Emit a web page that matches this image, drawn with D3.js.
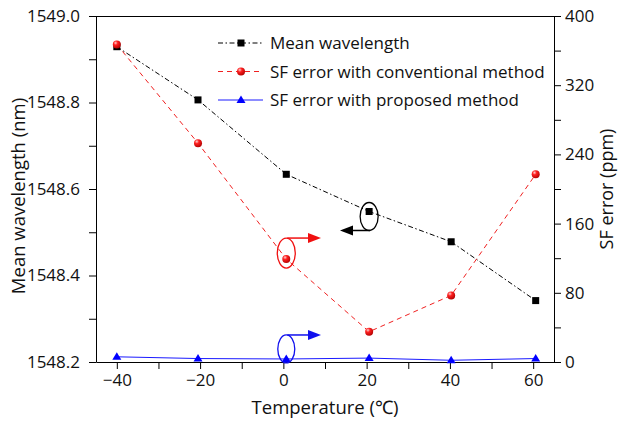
<!DOCTYPE html>
<html><head><meta charset="utf-8">
<script src="https://cdn.jsdelivr.net/npm/d3@7"></script>
<style>
body{margin:0;background:#fff}
svg{display:block}
text{font-family:'Open Sans',sans-serif;fill:#111}
</style>
</head><body>
<svg id="c" width="620" height="421"></svg>
<script>
// ---- data ----
const temps = [-40, -20.5, 0.7, 20.6, 40.3, 60.6];
const meanWavelength = [1548.929, 1548.806, 1548.634, 1548.548, 1548.478, 1548.342];
const sfConventional = [367, 253, 119, 35, 77, 217];
const sfProposed = [6, 4, 3.5, 4.5, 2, 4];
const xTicks = [-40, -20, 0, 20, 40, 60];
const xMinor = [-30, -10, 10, 30, 50];
const leftTicks = [1548.2, 1548.4, 1548.6, 1548.8, 1549.0];
const leftMinor = [1548.3, 1548.5, 1548.7, 1548.9];
const rightTicks = [0, 80, 160, 240, 320, 400];
const rightMinor = [40, 120, 200, 280, 360];
const seriesNames = ["Mean wavelength", "SF error with conventional method", "SF error with proposed method"];
const xTitle = "Temperature (\u2103)";
const leftTitle = "Mean wavelength (nm)";
const rightTitle = "SF error (ppm)";

// ---- layout ----
const L = 96, R = 554, T = 16, B = 362;
const svg = d3.select("#c");
const x = d3.scaleLinear().domain([-45, 65]).range([L, R]);
const yL = d3.scaleLinear().domain([1548.2, 1549.0]).range([B, T]);
const yR = d3.scaleLinear().domain([0, 400]).range([B, T]);

const defs = svg.append("defs");
const g = defs.append("radialGradient").attr("id", "ball").attr("cx", "0.35").attr("cy", "0.3").attr("r", "0.75");
g.append("stop").attr("offset", "0").attr("stop-color", "#ffd0d0");
g.append("stop").attr("offset", "0.35").attr("stop-color", "#ff2020");
g.append("stop").attr("offset", "1").attr("stop-color", "#b00000");

function styleAxis(sel) {
  sel.selectAll("path,line").attr("stroke", "#000").attr("stroke-width", 1);
  sel.selectAll("text").style("font-size", "17px").attr("fill", "#111").style("font-family", "'Open Sans',sans-serif");
}

// frame top
svg.append("line").attr("x1", L).attr("x2", R).attr("y1", T + 0.5).attr("y2", T + 0.5).attr("stroke", "#000");

// bottom axis
const ax = svg.append("g").attr("transform", `translate(0,${B})`)
  .call(d3.axisBottom(x).tickValues(xTicks).tickSize(7).tickSizeOuter(0).tickPadding(5).tickFormat(d3.format("d")));
styleAxis(ax);
const axm = svg.append("g").attr("transform", `translate(0,${B})`)
  .call(d3.axisBottom(x).tickValues(xMinor).tickSize(7).tickSizeOuter(0).tickFormat(""));
axm.select("path").remove(); styleAxis(axm);

// left axis
const al = svg.append("g").attr("transform", `translate(${L},0)`)
  .call(d3.axisLeft(yL).tickValues(leftTicks).tickSize(7).tickSizeOuter(0).tickPadding(9).tickFormat(d3.format(".1f")));
styleAxis(al);
const alm = svg.append("g").attr("transform", `translate(${L},0)`)
  .call(d3.axisLeft(yL).tickValues(leftMinor).tickSize(7).tickSizeOuter(0).tickFormat(""));
alm.select("path").remove(); styleAxis(alm);

// right axis
const ar = svg.append("g").attr("transform", `translate(${R},0)`)
  .call(d3.axisRight(yR).tickValues(rightTicks).tickSize(7).tickSizeOuter(0).tickPadding(4).tickFormat(d3.format("d")));
styleAxis(ar);
const arm = svg.append("g").attr("transform", `translate(${R},0)`)
  .call(d3.axisRight(yR).tickValues(rightMinor).tickSize(7).tickSizeOuter(0).tickFormat(""));
arm.select("path").remove(); styleAxis(arm);

// titles
svg.append("text").attr("x", (L + R) / 2).attr("y", 414).attr("text-anchor", "middle").style("font-size", "18.5px").text(xTitle);
svg.append("text").attr("transform", `translate(25,${(T + B) / 2 + 7}) rotate(-90)`).attr("text-anchor", "middle").style("font-size", "18.5px").text(leftTitle);
svg.append("text").attr("transform", `translate(613,${(T + B) / 2}) rotate(-90)`).attr("text-anchor", "middle").style("font-size", "18px").text(rightTitle);

// series
const blackPts = temps.map((t, i) => [x(t), yL(meanWavelength[i])]);
const redPts = temps.map((t, i) => [x(t), yR(sfConventional[i])]);
const bluePts = temps.map((t, i) => [x(t), yR(sfProposed[i])]);
const line = d3.line();

svg.append("path").attr("d", line(blackPts)).attr("fill", "none").attr("stroke", "#000").attr("stroke-width", 1).attr("stroke-dasharray", "5,2.5,1.5,2.5");
svg.append("path").attr("d", line(redPts)).attr("fill", "none").attr("stroke", "#f02020").attr("stroke-width", 1).attr("stroke-dasharray", "5,4");
svg.append("path").attr("d", line(bluePts)).attr("fill", "none").attr("stroke", "#1a1aff").attr("stroke-width", 1);

function square(sel, pts) {
  sel.selectAll(null).data(pts).enter().append("rect")
    .attr("x", d => d[0] - 3.5).attr("y", d => d[1] - 3.5).attr("width", 7).attr("height", 7).attr("fill", "#000");
}
function ball(sel, pts) {
  sel.selectAll(null).data(pts).enter().append("circle")
    .attr("cx", d => d[0]).attr("cy", d => d[1]).attr("r", 4).attr("fill", "url(#ball)");
}
function tri(sel, pts) {
  sel.selectAll(null).data(pts).enter().append("path")
    .attr("d", d => `M${d[0]},${d[1] - 4.5}L${d[0] + 4.5},${d[1] + 3}L${d[0] - 4.5},${d[1] + 3}Z`).attr("fill", "#0000ff");
}
const mk = svg.append("g");
square(mk, blackPts);
ball(mk, redPts);
tri(mk, bluePts);

// annotations (ellipse + arrow pointing to axis)
function annot(px, py, dy, rx, ry, fromTop, tipX, color) {
  const cx = px, cy = py + dy;
  svg.append("ellipse").attr("cx", cx).attr("cy", cy).attr("rx", rx).attr("ry", ry)
    .attr("fill", "none").attr("stroke", color).attr("stroke-width", 1.3);
  const ay = fromTop ? cy - ry : cy + ry;
  const sx = cx + 1;
  const dir = tipX > sx ? 1 : -1;
  svg.append("line").attr("x1", sx).attr("y1", ay).attr("x2", tipX - dir * 11).attr("y2", ay)
    .attr("stroke", color).attr("stroke-width", 1.5);
  svg.append("path").attr("d", `M${tipX},${ay}L${tipX - dir * 13},${ay - 5}L${tipX - dir * 13},${ay + 5}Z`).attr("fill", color);
}
annot(blackPts[3][0], blackPts[3][1], 5, 9, 14, false, 340, "#000");
annot(redPts[2][0], redPts[2][1], -6, 9, 15, true, 321, "#f01010");
annot(bluePts[2][0], bluePts[2][1], -10, 8.5, 14, true, 321, "#1010ee");

// legend
const leg = svg.append("g");
const legY = [43, 71.5, 100];
const lx1 = 218, lx2 = 263, lm = 241;
leg.append("line").attr("x1", lx1).attr("x2", lx2).attr("y1", legY[0]).attr("y2", legY[0]).attr("stroke", "#000").attr("stroke-dasharray", "5,2.5,1.5,2.5");
square(leg, [[lm, legY[0]]]);
leg.append("line").attr("x1", lx1).attr("x2", lx2).attr("y1", legY[1]).attr("y2", legY[1]).attr("stroke", "#f02020").attr("stroke-dasharray", "5,4");
ball(leg, [[lm, legY[1]]]);
leg.append("line").attr("x1", lx1).attr("x2", lx2).attr("y1", legY[2]).attr("y2", legY[2]).attr("stroke", "#1a1aff");
tri(leg, [[lm, legY[2]]]);
seriesNames.forEach((n, i) => {
  leg.append("text").attr("x", 270).attr("y", legY[i] + 6).style("font-size", "17px").text(n);
});
</script>
</body></html>
